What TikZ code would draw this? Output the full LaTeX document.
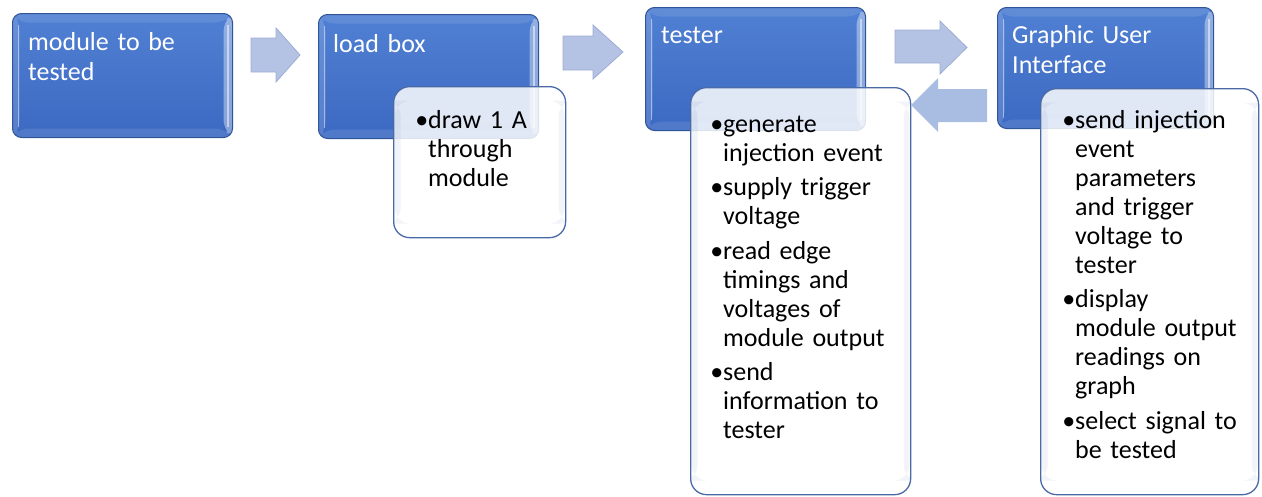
\documentclass[tikz,border=0pt]{standalone}
\usepackage{fontspec}
\setmainfont{Carlito}
\definecolor{boxtop}{HTML}{5080D3}
\definecolor{boxbot}{HTML}{3C69C2}
\definecolor{boxedge}{HTML}{2F5597}
\definecolor{subedge}{HTML}{4A6AA6}
\definecolor{arrfill}{HTML}{B4C2E3}
\definecolor{arredge}{HTML}{9DACD4}
\definecolor{arrfilltwo}{HTML}{A9BDE2}
\newcommand\bul{\leavevmode\llap{\textbullet}}
\begin{document}
\begin{tikzpicture}[x=1pt,y=-1pt,
  mainbox/.style={draw=boxedge, line width=1pt, rounded corners=9pt,
    top color=boxtop, bottom color=boxbot, anchor=north west, inner sep=0pt,
    path picture={
      % left facet
      \fill[white,opacity=.14] (path picture bounding box.north west)
        -- ([xshift=7pt,yshift=-9pt]path picture bounding box.north west)
        -- ([xshift=7pt,yshift=9pt]path picture bounding box.south west)
        -- (path picture bounding box.south west) -- cycle;
      \draw[white,opacity=.45,line width=1.2pt] ([xshift=6pt,yshift=-11pt]path picture bounding box.north west)
        -- ([xshift=6pt,yshift=11pt]path picture bounding box.south west);
      % right facet
      \fill[white,opacity=.38] (path picture bounding box.north east)
        -- ([xshift=-9pt,yshift=-9pt]path picture bounding box.north east)
        -- ([xshift=-9pt,yshift=9pt]path picture bounding box.south east)
        -- (path picture bounding box.south east) -- cycle;
      \draw[white,opacity=.5,line width=2pt] ([xshift=-5pt,yshift=-11pt]path picture bounding box.north east)
        -- ([xshift=-5pt,yshift=11pt]path picture bounding box.south east);
      % top facet
      \fill[white,opacity=.10] (path picture bounding box.north west)
        -- (path picture bounding box.north east)
        -- ([xshift=-9pt,yshift=-9pt]path picture bounding box.north east)
        -- ([xshift=7pt,yshift=-9pt]path picture bounding box.north west) -- cycle;
      % bottom facet
      \fill[white,opacity=.10] (path picture bounding box.south west)
        -- (path picture bounding box.south east)
        -- ([xshift=-9pt,yshift=9pt]path picture bounding box.south east)
        -- ([xshift=7pt,yshift=9pt]path picture bounding box.south west) -- cycle;
    }},
  subbox/.style={draw=subedge, line width=1.3pt, rounded corners=16pt,
    fill=white, fill opacity=.84, anchor=north west, inner sep=0pt,
    path picture={
      \fill[subedge,opacity=.07] ([xshift=1pt,yshift=-14pt]path picture bounding box.north west)
        rectangle ([xshift=7pt,yshift=14pt]path picture bounding box.south west);
      \fill[subedge,opacity=.07] ([xshift=-7pt,yshift=-14pt]path picture bounding box.north east)
        rectangle ([xshift=-1pt,yshift=14pt]path picture bounding box.south east);
    }},
  headtxt/.style={anchor=base west, inner sep=0pt, text=white,
    font=\fontsize{26}{30}\selectfont, align=left, text width=300pt},
  bodytxt/.style={anchor=base west, inner sep=0pt, text=black,
    font=\fontsize{26}{29}\selectfont, align=left, text width=300pt},
  blockarrow/.style={fill=arrfill, draw=arredge, line width=0.8pt},
  blockarrowtwo/.style={fill=arrfilltwo}
]
\useasboundingbox (0,0) rectangle (1262,496);

% main boxes
\node[mainbox, minimum width=220pt, minimum height=124pt] (b1) at (12,13) {};
\node[mainbox, minimum width=220pt, minimum height=124pt] (b2) at (318,14) {};
\node[mainbox, minimum width=220pt, minimum height=123pt] (b3) at (645,7) {};
\node[mainbox, minimum width=216pt, minimum height=121pt] (b4) at (997,7) {};

% headings
\node[headtxt] (h1) at (28,50) {module to be\\tested};
\node[headtxt] (h2) at (333,52) {load box};
\node[headtxt] (h3) at (661,43) {tester};
\node[headtxt] (h4) at (1012,43) {Graphic User\\Interface};

% sub boxes
\node[subbox, minimum width=172pt, minimum height=151pt] (s2) at (393,86) {};
\node[subbox, minimum width=220pt, minimum height=407pt] (s3) at (690,87) {};
\node[subbox, minimum width=218pt, minimum height=406pt] (s4) at (1040,88) {};

% sub texts
\node[bodytxt] (s2t) at (428,128) {\bul draw 1 A\\through\\module};
\node[bodytxt] (s3t) at (723,132) {\bul generate\\injection event\\[5.5pt]%
\bul supply trigger\\voltage\\[5.5pt]%
\bul read edge\\timings and\\voltages of\\module output\\[5.5pt]%
\bul send\\information to\\tester};
\node[bodytxt] (s4t) at (1075,128) {\bul send injection\\event\\parameters\\and trigger\\voltage to\\tester\\[5.5pt]%
\bul display\\module output\\readings on\\graph\\[5.5pt]%
\bul select signal to\\be tested};

% block arrows
\draw[blockarrow] (251,38) -- (276,38) -- (276,28) -- (300,55) -- (276,82) -- (276,72) -- (251,72) -- cycle;
\draw[blockarrow] (563,36) -- (593,36) -- (593,25) -- (623,52) -- (593,79) -- (593,70) -- (563,70) -- cycle;
\draw[blockarrow] (895,30) -- (940,30) -- (940,21) -- (967,47.5) -- (940,74) -- (940,63) -- (895,63) -- cycle;
\fill[blockarrowtwo] (987,89) -- (938,89) -- (938,78) -- (911,105) -- (938,132) -- (938,122) -- (987,122) -- cycle;
\end{tikzpicture}
\end{document}
